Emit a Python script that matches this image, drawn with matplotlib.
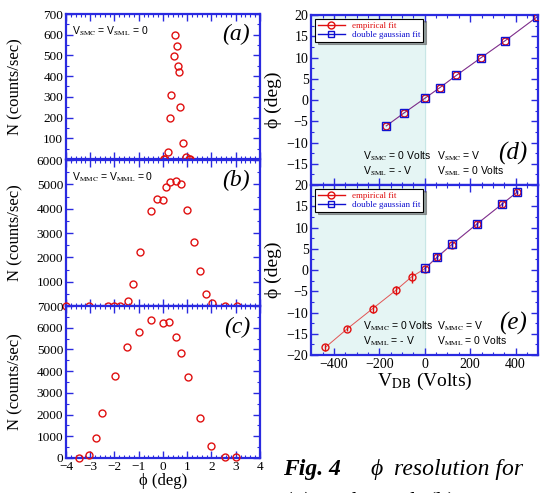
import matplotlib
matplotlib.use("Agg")
import matplotlib.pyplot as plt
from matplotlib.ticker import MultipleLocator
from matplotlib.lines import Line2D

plt.rcParams['font.family'] = ['Liberation Serif', 'DejaVu Serif']
plt.rcParams['mathtext.fontset'] = 'stix'

# ---- data ----
a_phi = [0.50, 0.58, 0.45, 0.62, 0.65, 0.34, 0.70, 0.29, 0.81, 0.22, 0.03, 0.06, 0.94, 1.06, 1.10]
a_n = [600, 545, 495, 448, 422, 310, 251, 198, 76, 32, 0, 0, 11, 0, 0]

b_phi = [-4.0, -3.04, -2.27, -2.01, -1.76, -1.46, -1.25, -0.96, -0.48, -0.25, 0.01,
         0.11, 0.28, 0.52, 0.76, 0.99, 1.28, 1.54, 1.79, 2.01, 2.57, 3.05]
b_n = [0, 0, 0, 0, 0, 205, 904, 2233, 3904, 4384, 4356,
       4903, 5110, 5123, 5000, 3945, 2644, 1452, 479, 110, 0, 0]

c_phi = [-3.46, -3.04, -2.78, -2.50, -1.99, -1.50, -0.98, -0.48, -0.01,
         0.26, 0.52, 0.76, 1.02, 1.53, 1.99, 2.56, 3.02]
c_n = [15, 138, 936, 2087, 3776, 5112, 5817, 6369, 6231,
       6277, 5587, 4820, 3715, 1826, 552, 46, 30]

d_v = [-170, -93, 0, 66, 139, 249, 355, 493]
d_emp = [-6.1, -3.1, 0.4, 2.9, 5.8, 10.0, 14.0, 19.5]
d_dg = [-6.1, -3.1, 0.4, 2.9, 5.8, 10.0, 14.0, 19.5]

e_v = [-438, -341, -230, -128, -58, 0, 55, 120, 229, 340, 406]
e_emp = [-18.2, -13.8, -9.1, -4.8, -1.6, 0.3, 3.0, 6.0, 10.8, 15.5, 18.3]
e_emp_err = [0.8, 0.6, 1.0, 1.0, 1.4, 0.8, 0.9, 0.9, 0.8, 0.6, 0.6]
e_dg_v = [0, 55, 120, 229, 340, 406]
e_dg = [0.4, 3.1, 6.1, 10.8, 15.5, 18.3]
e_dg_err = [0.6, 0.7, 0.7, 0.6, 0.5, 0.5]

SPINE = '#2a2ae0'
RED = '#e01010'
BLUE = '#1010d0'
SHADE = '#e5f5f4'
PHI = '\u03d5'

fig = plt.figure(figsize=(5.5, 4.93), dpi=100)


def style(ax, fs):
    for s in ax.spines.values():
        s.set_color(SPINE)
        s.set_linewidth(1.6)
    ax.tick_params(which='both', direction='in', top=True, right=True,
                   color=SPINE, labelsize=fs, pad=2)
    ax.tick_params(which='major', length=5, width=1.0)
    ax.tick_params(which='minor', length=2.5, width=0.8)


# ---- left column: N vs phi ----
left = [
    (0.12, 0.6775, 0.2941, a_phi, a_n, 700, 100, '(a)',
     r'V$_{\rm SMC}$ = V$_{\rm SML}$ = 0', range(100, 800, 100)),
    (0.12, 0.3793, 0.2961, b_phi, b_n, 6000, 1000, '(b)',
     r'V$_{\rm MMC}$ = V$_{\rm MML}$ = 0', range(1000, 7000, 1000)),
    (0.12, 0.0710, 0.3083, c_phi, c_n, 7000, 1000, '(c)',
     None, range(0, 8000, 1000)),
]
for x0, y0, h, xs, ys, ymax, step, tag, note, ticks in left:
    ax = fig.add_axes([x0, y0, 0.3527, h])
    ax.plot(xs, ys, 'o', mfc='none', mec=RED, ms=5, mew=1.0, clip_on=False, zorder=5)
    ax.set_xlim(-4, 4)
    ax.set_ylim(0, ymax)
    ax.set_yticks(list(ticks))
    ax.yaxis.set_minor_locator(MultipleLocator(step / 2))
    ax.xaxis.set_major_locator(MultipleLocator(1))
    ax.xaxis.set_minor_locator(MultipleLocator(0.2))
    style(ax, 9.5)
    if tag != '(c)':
        ax.tick_params(labelbottom=False)
    else:
        ax.set_xlabel(PHI + ' (deg)', fontsize=12, labelpad=0)
    ax.set_ylabel('N (counts/sec)', fontsize=12, labelpad=2)
    ax.yaxis.set_label_coords(-0.22, 0.5)
    ax.text(0.95, 0.93, tag, transform=ax.transAxes, fontsize=17,
            style='italic', ha='right', va='top')
    if note:
        ax.text(0.03, 0.93, note, transform=ax.transAxes, fontsize=7.5,
                family='Liberation Sans', ha='left', va='top')

# ---- right column: phi vs V_DB ----
right = [
    (0.6247, d_v, d_emp, None, d_v, d_dg, None, '(d)', 'S'),
    (0.2799, e_v, e_emp, e_emp_err, e_dg_v, e_dg, e_dg_err, '(e)', 'M'),
]
for y0, ev, ey, eerr, gv, gy, gerr, tag, ch in right:
    ax = fig.add_axes([0.566, y0, 0.4127, 0.3448])
    ax.axvspan(-500, 0, color=SHADE, zorder=0)
    ax.axvline(0, color='#c8e6e6', lw=0.8, zorder=0)
    ax.plot(ev, ey, '-', color=RED, lw=0.7, alpha=0.7, zorder=2)
    ax.errorbar(ev, ey, yerr=eerr, fmt='o', mfc='none', mec=RED, ecolor=RED,
                ms=5, mew=1.0, elinewidth=1.0, capsize=0, zorder=3)
    ax.plot(gv, gy, '-', color=BLUE, lw=0.7, alpha=0.55, zorder=2)
    ax.errorbar(gv, gy, yerr=gerr, fmt='s', mfc='none', mec=BLUE, ecolor=BLUE,
                ms=6, mew=1.0, elinewidth=1.0, capsize=0, zorder=4)
    ax.set_xlim(-500, 500)
    ax.set_ylim(-20, 20)
    ax.xaxis.set_major_locator(MultipleLocator(200))
    ax.xaxis.set_minor_locator(MultipleLocator(50))
    ax.yaxis.set_major_locator(MultipleLocator(5))
    ax.yaxis.set_minor_locator(MultipleLocator(2.5))
    style(ax, 10)
    if tag == '(d)':
        ax.set_yticks(range(-15, 25, 5))
        ax.tick_params(labelbottom=False)
    else:
        ax.set_xlabel(r'V$_{\rm DB}$ (Volts)', fontsize=14, labelpad=0)
    ax.set_ylabel(PHI + ' (deg)', fontsize=14, labelpad=2)
    ax.yaxis.set_label_coords(-0.13, 0.5)
    handles = [
        Line2D([], [], color=RED, lw=1.0, marker='o', mfc='none', mec=RED, ms=5),
        Line2D([], [], color=BLUE, lw=1.0, marker='s', mfc='none', mec=BLUE, ms=5),
    ]
    leg = ax.legend(handles, ['empirical fit', 'double gaussian fit'],
                    loc='upper left', fontsize=6.5, frameon=True, fancybox=False,
                    handlelength=3, borderpad=0.3, labelspacing=0.1,
                    borderaxespad=0.4, shadow=True)
    leg.get_frame().set_edgecolor('black')
    leg.get_frame().set_linewidth(0.8)
    for t, c in zip(leg.get_texts(), [RED, BLUE]):
        t.set_color(c)
    ax.text(0.95, 0.12, tag, transform=ax.transAxes, fontsize=18,
            style='italic', ha='right', va='bottom')
    kw = dict(fontsize=7.5, family='Liberation Sans', ha='left', va='center')
    ax.text(-272, -13.2, r'V$_{\rm %sMC}$ = 0 Volts' % ch, **kw)
    ax.text(-272, -16.7, r'V$_{\rm %sML}$ = - V' % ch, **kw)
    ax.text(54, -13.2, r'V$_{\rm %sMC}$ = V' % ch, **kw)
    ax.text(54, -16.7, r'V$_{\rm %sML}$ = 0 Volts' % ch, **kw)

# ---- caption (cut off by the page edge) ----
fig.text(0.515, 0.036, 'Fig. 4', fontsize=17, style='italic', weight='bold',
         ha='left', va='baseline')
fig.text(0.673, 0.036, PHI, fontsize=17, style='italic', ha='left', va='baseline')
fig.text(0.716, 0.036, 'resolution for', fontsize=17, style='italic',
         ha='left', va='baseline')
fig.text(0.515, -0.03, '(a) S Channel, (b) Main', fontsize=17, style='italic',
         ha='left', va='baseline')

fig.savefig('out.png', dpi=100)
